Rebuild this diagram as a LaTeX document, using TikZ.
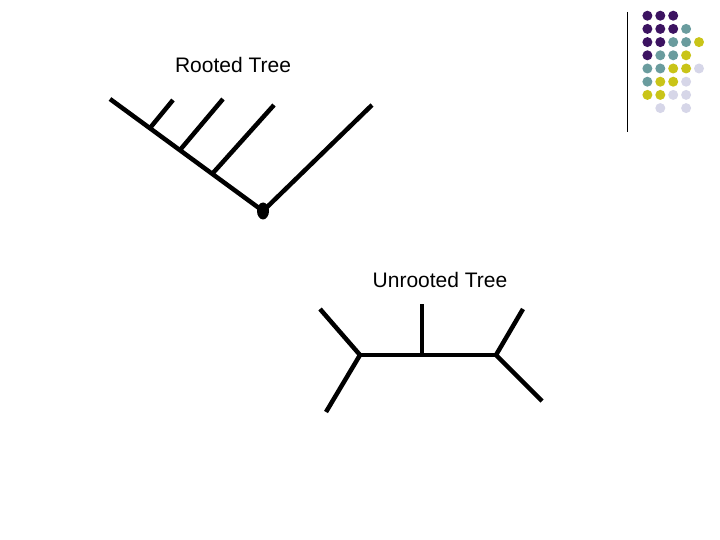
\documentclass[tikz,border=0pt]{standalone}
\usepackage{fontspec}
\setmainfont{Liberation Sans}
\usetikzlibrary{shapes.geometric}
\definecolor{dotpurple}{HTML}{3C1361}
\definecolor{dotteal}{HTML}{6A9C9E}
\definecolor{dotyellow}{HTML}{C9C418}
\definecolor{dotlilac}{HTML}{D6D6E8}
\tikzstyle{edge} = [line width=4.5pt, black]
\tikzstyle{title} = [font=\fontsize{21}{25}\selectfont, inner sep=0pt]
\tikzstyle{rootdot} = [ellipse, fill=black, minimum width=12pt, minimum height=17pt, inner sep=0pt]
\tikzstyle{gdot} = [circle, minimum size=10pt, inner sep=0pt]

\begin{document}
\begin{tikzpicture}[x=1pt, y=-1pt]
\useasboundingbox (0,0) rectangle (720,540);

% corner decoration
\draw[line width=1pt] (627,12) -- (627,132);
\foreach \c/\r/\col in {1/1/dotpurple,2/1/dotpurple,3/1/dotpurple,
  1/2/dotpurple,2/2/dotpurple,3/2/dotpurple,4/2/dotteal,
  1/3/dotpurple,2/3/dotpurple,3/3/dotteal,4/3/dotteal,5/3/dotyellow,
  1/4/dotpurple,2/4/dotteal,3/4/dotteal,4/4/dotyellow,
  1/5/dotteal,2/5/dotteal,3/5/dotyellow,4/5/dotyellow,5/5/dotlilac,
  1/6/dotteal,2/6/dotyellow,3/6/dotyellow,4/6/dotlilac,
  1/7/dotyellow,2/7/dotyellow,3/7/dotlilac,4/7/dotlilac,
  2/8/dotlilac,4/8/dotlilac}
  \node (g\c\r) [gdot, fill=\col] at ({634.5+12.9*\c},{2.5+13.2*\r}) {};

% rooted tree
\node (rtitle) [title] at (233,65) {Rooted Tree};
\node (root) [rootdot] at (263,211) {};
\coordinate (r1) at (150,128);
\coordinate (r2) at (180,150);
\coordinate (r3) at (213,173);
\coordinate (la) at (110,99);
\coordinate (lb) at (173,100);
\coordinate (lc) at (223,99);
\coordinate (ld) at (274,105);
\coordinate (le) at (372,105);
\draw[edge] (la) -- (root.center);
\draw[edge] (r1) -- (lb);
\draw[edge] (r2) -- (lc);
\draw[edge] (r3) -- (ld);
\draw[edge] (root.center) -- (le);

% unrooted tree
\node (utitle) [title] at (440,280) {Unrooted Tree};
\coordinate (u1) at (360,355);
\coordinate (u2) at (422,355);
\coordinate (u3) at (496,355);
\coordinate (ua) at (320,309);
\coordinate (ub) at (326,412);
\coordinate (uc) at (422,304);
\coordinate (ud) at (523,309);
\coordinate (ue) at (542,401);
\draw[edge] (u1) -- (u3);
\draw[edge] (ua) -- (u1) -- (ub);
\draw[edge] (u2) -- (uc);
\draw[edge] (ud) -- (u3) -- (ue);

\end{tikzpicture}
\end{document}
